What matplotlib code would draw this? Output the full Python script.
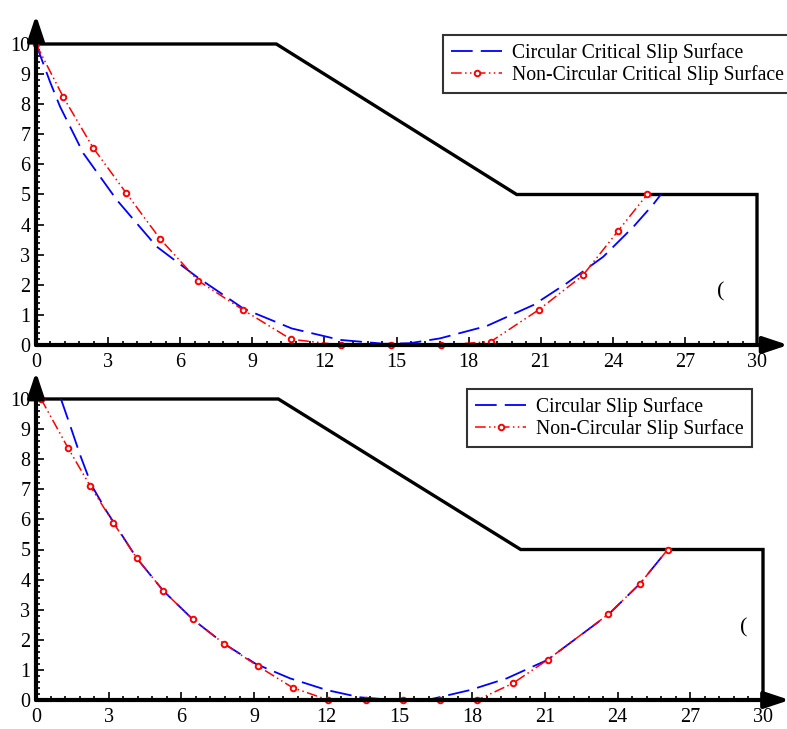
import matplotlib
matplotlib.use("Agg")
import matplotlib.pyplot as plt
import numpy as np
from matplotlib.ticker import MultipleLocator

plt.rcParams['font.family'] = ['Liberation Serif', 'DejaVu Serif']

# slope geometry (same for both panels)
ground_x = [0, 10, 20, 30, 30]
ground_y = [10, 10, 5, 5, 0]

# top panel - critical surfaces
circ_top_x = [0.0, 0.58, 1.0, 1.97, 3.36, 5.02, 6.68, 8.63, 10.64, 12.65, 14.5, 15.56,
              16.81, 18.75, 20.7, 22.08, 23.6, 24.86, 25.69, 26.0]
circ_top_y = [10.0, 8.75, 7.92, 6.37, 4.82, 3.27, 2.27, 1.21, 0.55, 0.17, 0.04, 0.06,
              0.22, 0.63, 1.33, 2.05, 2.93, 3.93, 4.68, 5.0]
ncirc_top_x = [0.0, 1.14, 2.37, 3.76, 5.17, 6.74, 8.61, 10.61, 12.68, 14.77, 16.85,
               18.92, 20.92, 22.75, 24.21, 25.43]
ncirc_top_y = [10.0, 8.23, 6.56, 5.04, 3.52, 2.14, 1.17, 0.19, 0.0, 0.0, 0.0,
               0.11, 1.17, 2.31, 3.78, 5.0]

# bottom panel
circ_bot_x = [1.03, 1.4, 1.82, 2.29, 2.92, 4.16, 5.25, 6.47, 7.76, 9.07, 10.48, 12.0,
              13.37, 14.76, 16.26, 17.91, 19.43, 21.1, 23.62, 24.93, 26.05]
circ_bot_y = [10.0, 9.14, 8.14, 7.14, 6.26, 4.71, 3.63, 2.68, 1.87, 1.2, 0.72, 0.33,
              0.09, 0.0, 0.02, 0.33, 0.72, 1.33, 2.84, 3.87, 4.98]
ncirc_bot_x = [0.21, 1.33, 2.23, 3.19, 4.16, 5.25, 6.47, 7.76, 9.15, 10.59, 12.06,
               13.6, 15.13, 16.67, 18.21, 19.67, 21.12, 23.62, 24.93, 26.07]
ncirc_bot_y = [10.0, 8.36, 7.12, 5.89, 4.71, 3.63, 2.68, 1.87, 1.13, 0.41, 0.0,
               0.0, 0.0, 0.0, 0.0, 0.55, 1.34, 2.85, 3.87, 5.0]

W, H = 787, 729
fig = plt.figure(figsize=(W / 100, H / 100), dpi=100)


def panel(rect, cx, cy, nx, ny, labels, leg_xy, paren_xy, xtip, ytip):
    ax = fig.add_axes(rect)
    ax.set_xlim(0, 30)
    ax.set_ylim(0, 10)
    for s in ax.spines.values():
        s.set_visible(False)
    ax.plot(ground_x, ground_y, color='k', lw=2.4, solid_joinstyle='miter', clip_on=False)
    l1, = ax.plot(cx, cy, color='blue', lw=1.3, dashes=(12, 4.5), clip_on=False)
    l2, = ax.plot(nx, ny, color='red', lw=1.1, dashes=(7, 2.2, 1, 2.2, 1, 2.2),
                  marker='o', ms=4, mfc='white', mec='red', mew=1.4, clip_on=False)
    # axes with arrows
    arrow = dict(arrowstyle='-|>,head_length=1.5,head_width=0.5',
                 lw=3, color='k', shrinkA=0, shrinkB=0)
    ax.annotate('', xy=(xtip, 0), xytext=(0, 0), annotation_clip=False, arrowprops=arrow)
    ax.annotate('', xy=(0, ytip), xytext=(0, 0), annotation_clip=False, arrowprops=arrow)
    ax.xaxis.set_major_locator(MultipleLocator(3))
    ax.xaxis.set_minor_locator(MultipleLocator(0.6))
    ax.yaxis.set_major_locator(MultipleLocator(1))
    ax.yaxis.set_minor_locator(MultipleLocator(0.2))
    ax.tick_params(which='both', direction='in', top=False, right=False,
                   labelsize=14.5, width=1.2)
    ax.tick_params(which='major', length=6)
    ax.tick_params(which='minor', length=3)
    ax.tick_params(axis='x', pad=6)
    ax.tick_params(axis='y', pad=4)
    ax.text(paren_xy[0], paren_xy[1], '(', fontsize=16, ha='center', va='center')
    leg = fig.legend([l1, l2], labels, loc='upper left', bbox_to_anchor=leg_xy,
                     fontsize=14.2, frameon=True, fancybox=False, edgecolor='k',
                     handlelength=2.6, handletextpad=0.5, borderpad=0.4,
                     labelspacing=0.12, borderaxespad=0)
    leg.get_frame().set_linewidth(1.5)
    return ax


panel([36 / W, 1 - 345 / H, 721 / W, 301 / H],
      circ_top_x, circ_top_y, ncirc_top_x, ncirc_top_y,
      ['Circular Critical Slip Surface', 'Non-Circular Critical Slip Surface'],
      (443 / W, 1 - 35 / H), (28.5, 1.75), 31.3, 10.96)

panel([36 / W, 1 - 700 / H, 727 / W, 301 / H],
      circ_bot_x, circ_bot_y, ncirc_bot_x, ncirc_bot_y,
      ['Circular Slip Surface', 'Non-Circular Slip Surface'],
      (467 / W, 1 - 389 / H), (29.2, 2.4), 31.1, 10.9)

fig.savefig('out.png', dpi=100)
